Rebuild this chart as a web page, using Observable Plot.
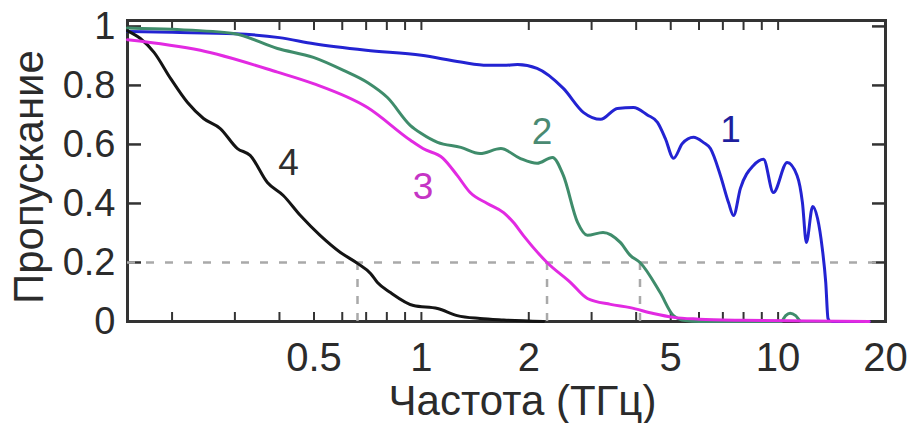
<!DOCTYPE html>
<html>
<head>
<meta charset="utf-8">
<script src="https://cdn.jsdelivr.net/npm/d3@7"></script>
<script src="https://cdn.jsdelivr.net/npm/@observablehq/plot@0.6"></script>
<style>
  html, body { margin: 0; padding: 0; background: #fff; }
  #chart svg { display: block; }
</style>
</head>
<body>
<div id="chart"></div>
<script>
// Transmission spectra of four samples (frequency in THz, log scale)
const freq1 = [0.15, 0.2, 0.3, 0.4, 0.5, 0.7, 1.0, 1.29, 1.53, 1.7, 1.86, 2.11, 2.5, 2.85, 3.18, 3.54, 3.93, 4.3, 4.59, 4.83, 5.09, 5.39, 5.79, 6.17, 6.46, 6.89, 7.26, 7.5, 7.84, 8.53, 9.1, 9.7, 10.6, 11.3, 11.7, 12.0, 12.5, 12.9, 13.3, 13.6, 13.8, 14.0, 18.0];
const trans1 = [0.983, 0.98, 0.975, 0.962, 0.941, 0.919, 0.902, 0.879, 0.868, 0.868, 0.871, 0.858, 0.79, 0.708, 0.685, 0.722, 0.725, 0.70, 0.675, 0.62, 0.553, 0.603, 0.624, 0.607, 0.586, 0.495, 0.403, 0.359, 0.451, 0.529, 0.55, 0.437, 0.539, 0.495, 0.403, 0.268, 0.39, 0.349, 0.247, 0.132, 0.01, 0.0, 0.0];

const freq2 = [0.15, 0.2, 0.297, 0.395, 0.498, 0.605, 0.706, 0.803, 0.932, 1.0, 1.11, 1.29, 1.46, 1.67, 1.89, 2.11, 2.33, 2.5, 2.74, 2.92, 3.23, 3.61, 3.85, 4.1, 4.67, 5.09, 5.5, 6.0, 10.2, 10.5, 10.8, 11.2, 11.6, 14.0];
const trans2 = [0.995, 0.99, 0.976, 0.925, 0.895, 0.851, 0.81, 0.759, 0.664, 0.637, 0.607, 0.59, 0.569, 0.586, 0.553, 0.536, 0.556, 0.495, 0.336, 0.292, 0.302, 0.268, 0.224, 0.2, 0.098, 0.02, 0.003, 0.0, 0.0, 0.02, 0.028, 0.02, 0.0, 0.0];

const freq3 = [0.15, 0.24, 0.395, 0.498, 0.706, 0.932, 1.01, 1.15, 1.26, 1.37, 1.53, 1.70, 1.81, 1.93, 2.25, 2.62, 2.92, 3.39, 3.85, 4.47, 5.09, 6.0, 8.0, 12.0, 18.0];
const trans3 = [0.955, 0.919, 0.845, 0.806, 0.725, 0.614, 0.586, 0.553, 0.495, 0.437, 0.4, 0.369, 0.336, 0.292, 0.2, 0.132, 0.078, 0.058, 0.047, 0.027, 0.014, 0.008, 0.004, 0.002, 0.0];

const freq4 = [0.15, 0.163, 0.178, 0.198, 0.221, 0.245, 0.273, 0.305, 0.331, 0.37, 0.41, 0.458, 0.52, 0.593, 0.662, 0.72, 0.753, 0.819, 0.95, 1.11, 1.26, 1.46, 1.7, 2.2];
const trans4 = [0.985, 0.959, 0.912, 0.824, 0.742, 0.688, 0.654, 0.586, 0.563, 0.471, 0.427, 0.359, 0.292, 0.234, 0.197, 0.163, 0.132, 0.098, 0.054, 0.044, 0.02, 0.01, 0.005, 0.0];

// Drawing order and colours of the curves
const seriesNames = ["1", "2", "4", "3"];
const seriesFreq = {"1": freq1, "2": freq2, "3": freq3, "4": freq4};
const seriesTrans = {"1": trans1, "2": trans2, "3": trans3, "4": trans4};
const seriesColor = {"1": "#2323d2", "2": "#3f8c6b", "3": "#e22ae2", "4": "#141414"};

// Curve labels
const labelText = ["1", "2", "3", "4"];
const labelFreq = [7.35, 2.18, 1.01, 0.424];
const labelTrans = [0.647, 0.64, 0.454, 0.536];
const labelColor = ["#1f1f9e", "#4a8a72", "#c534c5", "#2e2e2e"];

// 0.2 transmission level and the frequencies where curves 4, 3, 2 cross it
const levelValue = [0.2];
const crossFreq = [0.662, 2.25, 4.1];

// Axis ticks
const xTickLabels = [0.5, 1, 2, 5, 10, 20];
const xMinorTicks = [0.2, 0.3, 0.4, 0.5, 0.6, 0.7, 0.8, 0.9, 1, 2, 3, 4, 5, 6, 7, 8, 9, 10];
const yTicks = [0, 0.2, 0.4, 0.6, 0.8, 1];
const yInnerTicks = [0.2, 0.4, 0.6, 0.8, 1];

const xTitle = "Частота (ТГц)";
const yTitle = "Пропускание";

const curves = seriesNames.flatMap(name =>
  seriesFreq[name].map((f, i) => ({series: name, f, t: seriesTrans[name][i]}))
);
const labels = labelText.map((text, i) => ({text, f: labelFreq[i], t: labelTrans[i], color: labelColor[i]}));

const ink = "#2b2b2b";
const font = "'Liberation Sans', Arial, Helvetica, sans-serif";

const chart = Plot.plot({
  width: 907,
  height: 423,
  marginLeft: 127,
  marginRight: 22,
  marginTop: 20,
  marginBottom: 102,
  style: {fontFamily: font, color: ink, background: "#fff", overflow: "visible"},
  x: {type: "log", domain: [0.15, 20]},
  y: {domain: [0, 1.02]},
  marks: [
    // plot box
    Plot.frame({stroke: "#333", strokeWidth: 3}),
    // inward ticks on all four sides
    Plot.axisX(xMinorTicks, {anchor: "bottom", tickSize: -9, tickFormat: () => "", label: null, stroke: "#333", strokeWidth: 2}),
    Plot.axisX(xMinorTicks, {anchor: "top", tickSize: -9, tickFormat: () => "", label: null, stroke: "#333", strokeWidth: 2}),
    Plot.axisY(yInnerTicks, {anchor: "left", tickSize: -14, tickFormat: () => "", label: null, stroke: "#333", strokeWidth: 2.5}),
    Plot.axisY(yInnerTicks, {anchor: "right", tickSize: -14, tickFormat: () => "", label: null, stroke: "#333", strokeWidth: 2.5}),
    // reference level and crossing markers
    Plot.ruleY(levelValue, {stroke: "#a9a9a9", strokeWidth: 2.5, strokeDasharray: "8,11"}),
    Plot.ruleX(crossFreq, {y1: 0, y2: levelValue[0], stroke: "#a9a9a9", strokeWidth: 2.5, strokeDasharray: "8,9"}),
    // spectra
    ...seriesNames.map(name =>
      Plot.line(curves.filter(d => d.series === name), {
        x: "f", y: "t", stroke: seriesColor[name], strokeWidth: 3, curve: "monotone-x"
      })
    ),
    // curve numbers
    Plot.text(labels, {x: "f", y: "t", text: "text", fill: "color", fontSize: 37, fontFamily: font}),
    // tick labels
    Plot.text(xTickLabels, {x: d => d, frameAnchor: "bottom", lineAnchor: "top", dy: 21, text: d => String(d), fontSize: 40, fill: ink, fontFamily: font}),
    Plot.axisY(yTicks, {anchor: "left", tickSize: 0, tickPadding: 12, tickFormat: d => String(d), label: null, fontSize: 38, fill: ink}),
    // axis titles
    Plot.text([xTitle], {frameAnchor: "bottom", textAnchor: "middle", dy: 93, dx: 16, fontSize: 42, fill: ink, fontFamily: font}),
    Plot.text([yTitle], {frameAnchor: "left", textAnchor: "middle", rotate: -90, dx: -98, dy: 6, fontSize: 42, fill: ink, fontFamily: font})
  ]
});

document.getElementById("chart").appendChild(chart);
</script>
</body>
</html>
